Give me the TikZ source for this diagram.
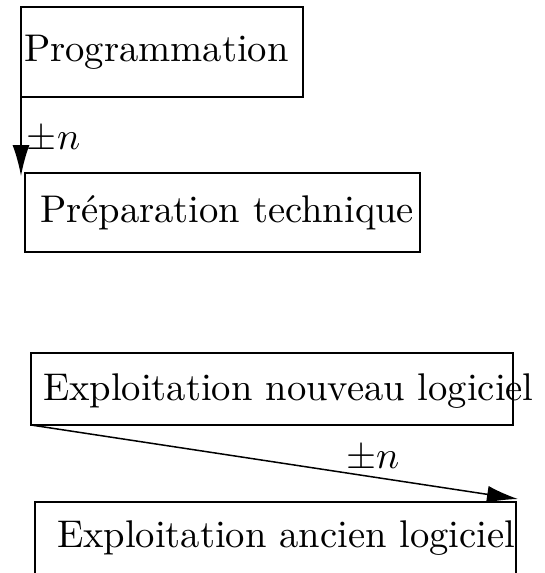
\documentclass[tikz,border=0pt]{standalone}
\usetikzlibrary{arrows.meta}
\begin{document}
\begin{tikzpicture}[x=1pt,y=-1pt,line width=1.5pt,
  box/.style={draw,line width=1.5pt,inner sep=0pt,outer sep=0pt},
  lbl/.style={inner sep=0pt,outer sep=0pt,anchor=base west,font=\fontsize{10}{12}\selectfont,scale=3.86,transform shape},
  conn/.style={-{Latex[length=31pt,width=17pt]},line width=1.5pt}]
\useasboundingbox (0,0) rectangle (545,573);
% boxes
\node[box,minimum width=282pt,minimum height=90pt] (p) at (162,52) {};
\node[box,minimum width=395pt,minimum height=79pt] (t) at (222.5,212.5) {};
\node[box,minimum width=482pt,minimum height=72pt] (n) at (272,389) {};
\node[box,minimum width=481pt,minimum height=100pt] (a) at (275.5,552) {};
% texts
\node[lbl] (tp) at (24,61) {Programmation};
\node[lbl] (tt) at (40,222) {Préparation technique};
\node[lbl] (tn) at (43,400) {Exploitation nouveau logiciel};
\node[lbl] (ta) at (57,547) {Exploitation ancien logiciel};
% connectors
\coordinate (e1) at (21,176);
\draw[conn] (p.south west) -- (e1);
\node[lbl] (l1) at (27,149) {$\pm n$};
\coordinate (e2) at (518,499);
\draw[conn] (n.south west) -- (e2);
\node[lbl] (l2) at (346,468) {$\pm n$};
\end{tikzpicture}
\end{document}
